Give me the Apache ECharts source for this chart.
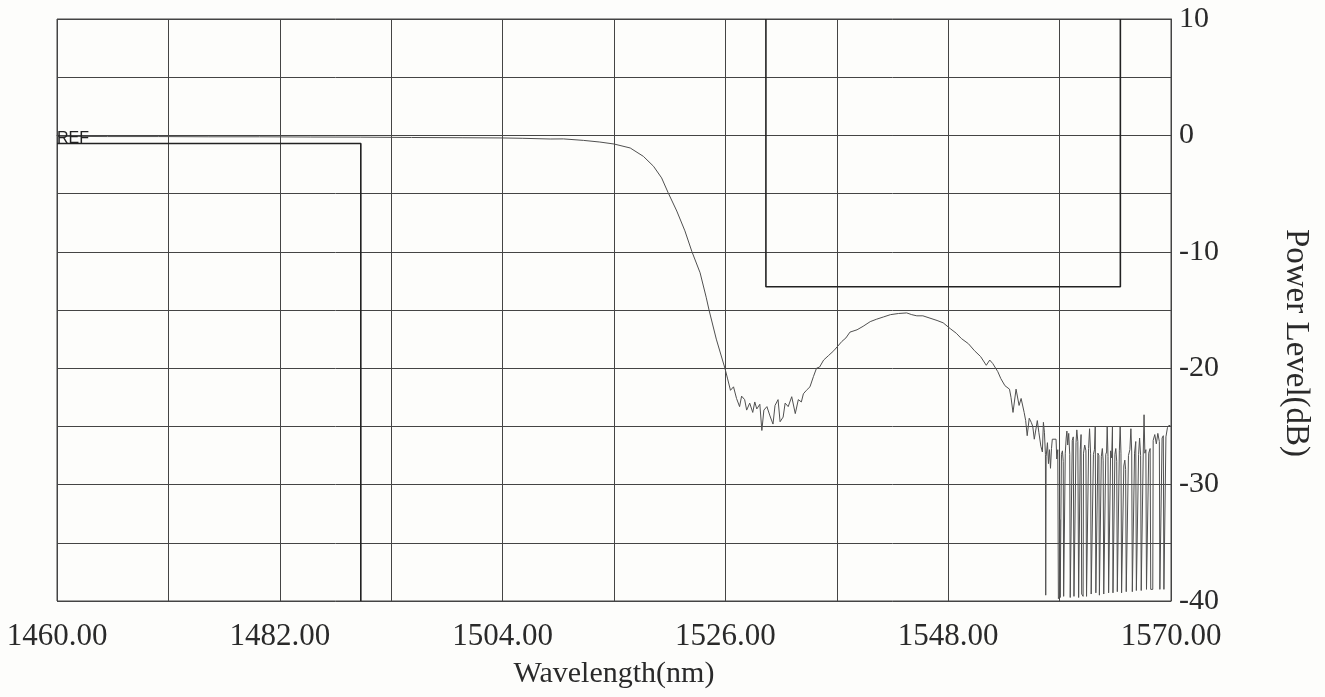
<!DOCTYPE html>
<html>
<head>
<meta charset="utf-8">
<script src="https://cdn.jsdelivr.net/npm/echarts@6/dist/echarts.min.js"></script>
<style>
html,body{margin:0;padding:0;background:#fdfdfb;}
#chart{width:1325px;height:697px;}
</style>
</head>
<body>
<div id="chart"></div>
<script>
// Measured spectrum: [wavelength nm, power dB]
const trace = [
[1460,-0.08],[1465,-0.1],[1470,-0.1],[1475,-0.12],[1480,-0.12],[1485,-0.14],[1490,-0.15],[1495,-0.18],
[1500,-0.2],[1504,-0.22],[1506,-0.25],[1508.7,-0.31],[1510,-0.3],[1512,-0.43],[1513.6,-0.57],[1515,-0.74],
[1516.6,-1.08],[1517.9,-1.8],[1518.9,-2.65],[1519.7,-3.65],[1520.35,-4.93],[1521.2,-6.5],[1522.0,-8.2],
[1522.7,-10.0],[1523.5,-11.8],[1524.1,-13.9],[1524.4,-15.06],[1525.1,-17.5],[1525.95,-20],[1526.2,-20.85],
[1526.5,-21.9],[1526.8,-21.6],[1527.1,-22.6],[1527.4,-23.3],[1527.6,-22.4],[1527.9,-22.7],[1528.1,-23.6],
[1528.4,-23.0],[1528.7,-23.8],[1528.9,-22.9],[1529.1,-23.5],[1529.4,-23.1],[1529.6,-25.35],[1529.8,-23.6],
[1530.1,-23.3],[1530.4,-24.1],[1530.7,-24.8],[1530.9,-23.2],[1531.2,-22.7],[1531.4,-24.6],[1531.7,-24.2],
[1531.9,-23.0],[1532.2,-23.3],[1532.55,-22.45],[1532.9,-23.9],[1533.2,-22.7],[1533.5,-22.9],[1533.7,-22.2],
[1534.0,-21.9],[1534.35,-21.6],[1534.7,-20.7],[1535.0,-20],[1535.3,-19.9],[1535.7,-19.3],[1536.2,-18.9],
[1536.7,-18.5],[1537.1,-18.1],[1537.5,-17.7],[1537.9,-17.4],[1538.3,-16.9],[1539.0,-16.7],[1539.6,-16.4],
[1540.3,-16.0],[1540.9,-15.8],[1541.6,-15.6],[1542.3,-15.4],[1543.1,-15.3],[1543.9,-15.25],[1544.4,-15.4],
[1544.9,-15.5],[1545.5,-15.5],[1546.2,-15.7],[1546.9,-15.9],[1547.5,-16.1],[1548.2,-16.6],[1548.8,-17.0],
[1549.3,-17.45],[1550.0,-17.9],[1550.6,-18.5],[1551.2,-19.0],[1551.76,-19.75],[1552.1,-19.3],[1552.4,-19.6],
[1552.9,-20.3],[1553.2,-20.9],[1553.6,-21.5],[1554.05,-21.8],[1554.2,-22.5],[1554.4,-23.8],[1554.7,-21.8],
[1555.0,-23.2],[1555.2,-22.6],[1555.5,-23.8],[1555.65,-24.5],[1555.8,-25.8],[1556.0,-24.3],[1556.2,-24.65],
[1556.35,-25.0],[1556.5,-26.1],[1556.8,-24.5],[1556.95,-25.5],[1557.15,-26.7],[1557.3,-27.2],[1557.4,-24.65],
[1557.5,-25.5],[1557.6,-27.4],[1557.63,-39.5],[1557.67,-27.6],[1557.8,-26.4],[1557.9,-28.2],[1558.0,-27.0],
[1558.1,-28.6],[1558.2,-26.9],[1558.28,-26.1],[1558.65,-26.1],[1558.72,-27.8],[1558.82,-27.0],[1558.88,-39.8],
[1558.98,-39.6],[1559.02,-33.0],[1559.06,-39.7],[1559.12,-39.8],[1559.18,-27.4],[1559.28,-27.1],[1559.36,-28.0],
[1559.4,-39.6],[1559.52,-39.5],[1559.56,-27.3],[1559.65,-26.0],[1559.72,-25.4],[1559.8,-26.6],[1559.9,-25.6],
[1560.0,-27.4],[1560.05,-39.7],[1560.2,-39.6],[1560.25,-26.2],[1560.35,-25.9],[1560.42,-39.6],[1560.58,-39.5],
[1560.62,-26.4],[1560.7,-25.3],[1560.8,-26.3],[1560.88,-39.7],[1561.0,-39.6],[1561.04,-27.0],[1561.12,-25.7],
[1561.18,-39.4],[1561.32,-39.6],[1561.36,-27.3],[1561.48,-26.6],[1561.6,-27.1],[1561.66,-39.6],[1561.82,-39.5],
[1561.86,-26.9],[1561.96,-25.2],[1562.06,-27.3],[1562.12,-39.4],[1562.3,-39.3],[1562.34,-27.4],[1562.44,-27.0],
[1562.52,-25.0],[1562.58,-39.3],[1562.74,-39.4],[1562.78,-27.3],[1562.88,-27.5],[1562.93,-39.5],[1563.08,-39.4],
[1563.12,-27.6],[1563.22,-26.9],[1563.3,-27.9],[1563.36,-39.4],[1563.52,-39.3],[1563.56,-27.4],[1563.64,-27.2],
[1563.7,-25.0],[1563.78,-27.6],[1563.84,-39.3],[1564.0,-39.2],[1564.04,-27.1],[1564.14,-27.7],[1564.22,-25.0],
[1564.27,-39.3],[1564.42,-39.2],[1564.46,-27.4],[1564.55,-26.9],[1564.64,-28.0],[1564.7,-39.2],[1564.86,-39.2],
[1564.9,-27.1],[1564.98,-25.0],[1565.06,-27.3],[1565.12,-39.3],[1565.3,-39.2],[1565.34,-28.4],[1565.44,-27.9],
[1565.52,-28.7],[1565.58,-39.2],[1565.76,-39.1],[1565.8,-27.5],[1565.94,-27.0],[1566.04,-25.2],[1566.12,-27.2],
[1566.18,-39.2],[1566.36,-39.1],[1566.4,-27.3],[1566.52,-26.3],[1566.58,-39.1],[1566.76,-39.2],[1566.8,-27.4],
[1566.9,-26.0],[1567.0,-27.5],[1567.06,-39.1],[1567.22,-39.0],[1567.26,-27.2],[1567.34,-24.0],[1567.42,-27.3],
[1567.52,-27.0],[1567.58,-39.0],[1567.76,-39.1],[1567.8,-27.3],[1567.94,-26.9],[1568.0,-39.0],[1568.2,-39.0],
[1568.24,-26.2],[1568.4,-25.7],[1568.55,-26.5],[1568.7,-25.6],[1568.85,-26.3],[1568.9,-39.0],[1569.08,-38.9],
[1569.12,-26.0],[1569.24,-25.8],[1569.3,-39.0],[1569.46,-38.9],[1569.5,-25.9],[1569.65,-25.1],[1569.8,-24.9],
[1570,-25.0]
];
// Pass/fail mask templates
const leftMask = [[1460,-0.7],[1490,-0.7],[1490,-40]];
const rightMask = [[1530,10],[1530,-13],[1565,-13],[1565,10]];
// Axis ticks
const xGridValues = [1460,1471,1482,1493,1504,1515,1526,1537,1548,1559,1570];
const xLabelValues = [1460,1482,1504,1526,1548,1570];
const yLabelValues = [10,0,-10,-20,-30,-40];

const serif = "'Liberation Serif','DejaVu Serif',serif";
const chart = echarts.init(document.getElementById('chart'));
chart.setOption({
  animation: false,
  backgroundColor: '#fdfdfb',
  grid: {left: 57, top: 19, width: 1114, height: 582, show: true, borderColor: '#444', borderWidth: 1, backgroundColor: 'transparent'},
  xAxis: {
    type: 'value', min: 1460, max: 1570,
    axisLine: {show: true, lineStyle: {color: '#444', width: 1}},
    axisTick: {show: false, customValues: xGridValues},
    splitLine: {show: true, lineStyle: {color: '#444', width: 1}},
    axisLabel: {customValues: xLabelValues, formatter: v => v.toFixed(2), fontFamily: serif, fontSize: 31, color: '#2a2a2a', margin: 20},
    name: 'Wavelength(nm)', nameLocation: 'middle', nameGap: 58,
    nameTextStyle: {fontFamily: serif, fontSize: 30, color: '#2a2a2a'}
  },
  yAxis: {
    type: 'value', min: -40, max: 10, interval: 5, position: 'right',
    axisLine: {show: true, lineStyle: {color: '#444', width: 1}},
    axisTick: {show: false},
    splitLine: {show: true, lineStyle: {color: '#444', width: 1}},
    axisLabel: {formatter: v => (yLabelValues.indexOf(v) >= 0 ? String(v) : ''), fontFamily: serif, fontSize: 30, color: '#2a2a2a', margin: 8}
  },
  graphic: [{
    type: 'text', x: 1296, y: 343, rotation: -Math.PI / 2,
    style: {text: 'Power Level(dB)', font: "33px 'Liberation Serif'", fill: '#2a2a2a', align: 'center', verticalAlign: 'middle'}
  }],
  series: [
    {type: 'line', data: leftMask, showSymbol: false, lineStyle: {color: '#222', width: 1.6}, z: 3},
    {type: 'line', data: rightMask, showSymbol: false, lineStyle: {color: '#222', width: 1.6}, z: 3},
    {type: 'line', data: trace, showSymbol: false, sampling: null, lineStyle: {color: '#505050', width: 1}, z: 4,
     markPoint: {symbol: 'circle', symbolSize: 0, data: [{coord: [1460, -0.08]}],
       label: {show: true, position: 'right', distance: 0, offset: [0, 2], formatter: 'REF', fontFamily: "'Liberation Sans',sans-serif", fontSize: 16, color: '#222'}}}
  ]
});
</script>
</body>
</html>
